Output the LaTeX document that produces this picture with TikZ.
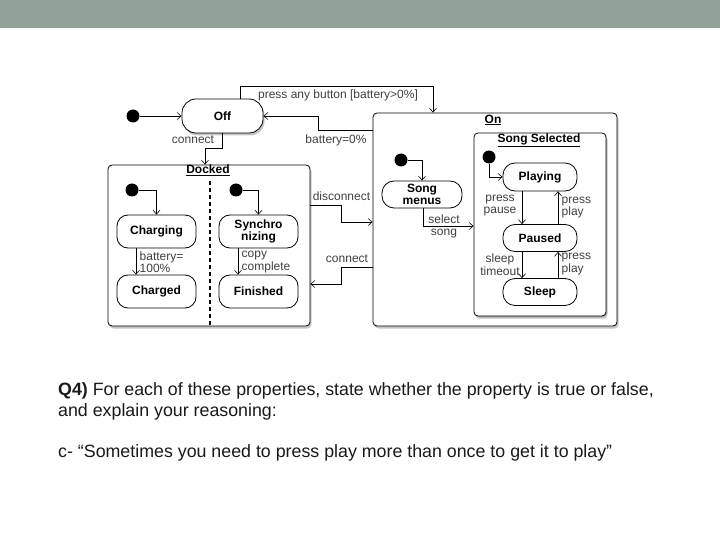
\documentclass[tikz,border=0pt]{standalone}
\usepackage{fontspec}
\setmainfont{Liberation Sans}
\usetikzlibrary{arrows.meta,shadows}
\definecolor{barcol}{RGB}{146,161,151}
\begin{document}
\begin{tikzpicture}[x=1pt,y=-1pt,
 state/.style={draw, rounded corners=11pt, minimum width=80pt, minimum height=32pt, inner sep=0pt,
   font=\fontsize{12}{12}\selectfont\bfseries, align=center, fill=white, line width=0.8pt},
 box/.style={draw, rounded corners=4pt, fill=white, line width=0.8pt, inner sep=0pt,
   drop shadow={shadow xshift=1.5pt, shadow yshift=-2.5pt, opacity=0.45}},
 init/.style={circle, fill=black, inner sep=0pt, minimum size=13pt},
 arr/.style={-{Straight Barb[length=4pt,width=7pt]}, line width=0.6pt},
 lbl/.style={font=\fontsize{12}{12.5}\selectfont, text=black!75, align=left, inner sep=0.5pt},
 ttl/.style={font=\fontsize{12}{12}\selectfont\bfseries, inner sep=1pt},
 qtext/.style={font=\fontsize{17.8}{20}\selectfont, anchor=west, inner sep=0pt, text=black!90},
]
\useasboundingbox (0,0) rectangle (720,540);
\fill[barcol] (0,0) rectangle (720,28);

% containers
\node[box, minimum width=202pt, minimum height=161pt] (docked) at (209,245.5) {};
\node[box, minimum width=244pt, minimum height=213pt] (on) at (495,219.5) {};
\node[box, minimum width=132pt, minimum height=183pt, drop shadow={shadow xshift=1pt, shadow yshift=-1.5pt, opacity=0.3}] (ss) at (540,224.5) {};
\node[ttl] (dockedT) at (208,170) {\underline{Docked}};
\node[ttl] (onT) at (493,120) {\underline{On}};
\node[ttl] (ssT) at (539,140) {\underline{Song Selected}};
\draw[line width=1.1pt, dash pattern=on 4pt off 3pt] (210,181) -- (210,325);

% states
\node[state, minimum width=81pt, minimum height=34pt, rounded corners=14pt,
  drop shadow={shadow xshift=1.5pt, shadow yshift=-2.5pt, opacity=0.45}] (off) at (222.5,116) {Off};
\node[state, minimum width=79pt, minimum height=33pt] (charging) at (156.5,231.5) {Charging};
\node[state, minimum width=79pt, minimum height=33pt] (charged) at (156.5,291.5) {Charged};
\node[state, minimum width=79pt, minimum height=33pt] (sync) at (258.5,231.5) {Synchro\\nizing};
\node[state, minimum width=79pt, minimum height=33pt] (finished) at (258.5,291.5) {Finished};
\node[state, minimum width=80pt, minimum height=27pt, rounded corners=12pt] (menus) at (422,194.5) {Song\\menus};
\node[state, minimum width=74pt, minimum height=28pt, rounded corners=12pt] (playing) at (540,177) {Playing};
\node[state, minimum width=74pt, minimum height=27pt, rounded corners=12pt] (paused) at (540,238) {Paused};
\node[state, minimum width=74pt, minimum height=27pt, rounded corners=12pt] (sleep) at (540,292) {Sleep};

% initial pseudo-states
\node[init] (i0) at (133,116) {};
\node[init] (i1) at (132,190) {};
\node[init] (i2) at (236,190) {};
\node[init] (i3) at (401,160) {};
\node[init] (i4) at (489,157) {};

\draw[arr] (i0) -- (off);
\draw[arr] (i1) -| (charging.north);
\draw[arr] (i2) -| (sync.north);
\draw[arr] (i3) -| (menus.north);
\draw[arr] (i4) |- (playing.west);

% bend points
\coordinate (b1) at (240,86);
\coordinate (b2) at (433,86);
\coordinate (b3) at (318,130);
\coordinate (b4) at (222,148);
\coordinate (b5) at (205,148);
\coordinate (d1) at (341,205);
\coordinate (d2) at (341,222);
\coordinate (e1) at (341,267);
\coordinate (e2) at (341,284);
\coordinate (s1) at (423,226);
\coordinate (xl) at (522,0);
\coordinate (xr) at (558,0);
\coordinate (xc) at (136,0);
\coordinate (xs) at (238,0);

\draw[arr] (off.north -| b1) -- (b1) -- (b2) -- (on.north -| b2);
\node[lbl] (lpab) at (338,95) {press any button [battery>0\%]};
\draw[arr] (on.west |- b3) -- (b3) |- (off.east);
\node[lbl] (lb0) at (336,140) {battery=0\%};
\draw[arr] (off.south -| b4) -- (b4) -- (b5) -- (docked.north -| b5);
\node[lbl] (lcon) at (193,140) {connect};

\draw[arr] (charging.south -| xc) -- (charged.north -| xc);
\node[lbl, anchor=west] (lbat) at (139,262) {battery=\\100\%};
\draw[arr] (sync.south -| xs) -- (finished.north -| xs);
\node[lbl, anchor=west] (lcopy) at (241,262) {copy\\complete};

\draw[arr] (docked.east |- d1) -- (d1) -- (d2) -- (on.west |- d2);
\node[lbl] (ldis) at (341.5,196) {disconnect};
\draw[arr] (on.west |- e1) -- (e1) -- (e2) -- (docked.east |- e2);
\node[lbl] (lcon2) at (347,259) {connect};

\draw[arr] (menus.south -| s1) -- (s1) -- (ss.west |- s1);
\node[lbl, align=center] (lsel) at (444,226.5) {select\\song};

\draw[arr] (playing.south -| xl) -- (paused.north -| xl);
\node[lbl, align=center] (lpp) at (500,205.5) {press\\pause};
\draw[arr] (paused.north -| xr) -- (playing.south -| xr);
\node[lbl, align=left, anchor=west] (lpl1) at (561,207.5) {press\\play};
\draw[arr] (paused.south -| xl) -- (sleep.north -| xl);
\node[lbl, align=center] (lst) at (500,264.5) {sleep\\timeout};
\draw[arr] (sleep.north -| xr) -- (paused.south -| xr);
\node[lbl, align=left, anchor=west] (lpl2) at (561,264) {press\\play};

% question text
\node[qtext] (q1) at (58,391) {\textbf{Q4)} For each of these properties, state whether the property is true or false,};
\node[qtext] (q2) at (58,412) {and explain your reasoning:};
\node[qtext] (q3) at (58,453) {c- “Sometimes you need to press play more than once to get it to play”};
\end{tikzpicture}
\end{document}
